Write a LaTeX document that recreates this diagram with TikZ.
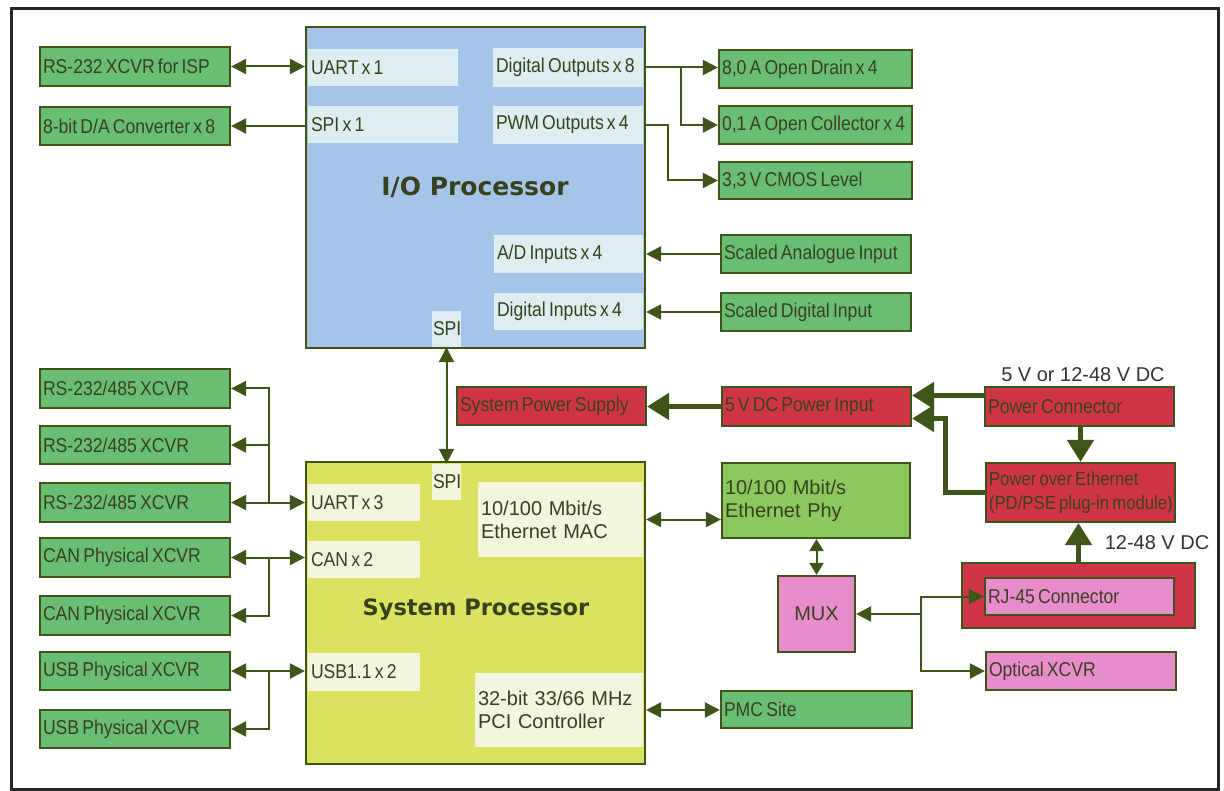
\documentclass[tikz,border=0pt]{standalone}
\usepackage{fontspec}
\usepackage{graphicx}
\setmainfont{Liberation Sans}
\newfontfamily\ttl{DejaVu Sans}
\usetikzlibrary{arrows.meta}
\newcommand\nr[1]{\scalebox{0.88}[1]{\spaceskip=3.6pt plus 1pt minus 0.8pt\relax #1}}
\definecolor{grnf}{RGB}{106,190,116}
\definecolor{phyf}{RGB}{140,200,95}
\definecolor{bluef}{RGB}{165,196,232}
\definecolor{yelf}{RGB}{220,226,96}
\definecolor{redf}{RGB}{208,52,72}
\definecolor{pinkf}{RGB}{232,140,204}
\definecolor{edge}{RGB}{62,84,24}
\definecolor{txt}{RGB}{55,65,30}
\definecolor{iosub}{RGB}{222,238,240}
\definecolor{syssub}{RGB}{243,245,222}
\newcommand\bx[7]{%
 \pgfmathsetmacro\bxw{#5-#3}\pgfmathsetmacro\bxh{#6-#4}\pgfmathsetmacro\bxt{#5-#3-6}%
 \pgfmathsetmacro\bxx{(#3+#5)/2}\pgfmathsetmacro\bxy{(#4+#6)/2}%
 \node[#1, minimum width=\bxw pt, minimum height=\bxh pt, text width=\bxt pt] (#2) at (\bxx,\bxy) {#7};}
\tikzset{
 lbl/.style={font=\fontsize{20}{23}\selectfont, text=txt, align=left, inner xsep=3pt, inner ysep=0pt},
 grn/.style={lbl, draw=edge, line width=2.2pt, fill=grnf},
 phy/.style={grn, fill=phyf},
 red/.style={lbl, draw=edge, line width=2.2pt, fill=redf},
 pink/.style={lbl, draw=edge, line width=2.2pt, fill=pinkf},
 proc/.style={lbl, draw=edge, line width=2.2pt},
 iob/.style={lbl, fill=iosub},
 syb/.style={lbl, fill=syssub},
 ttlf/.style={font=\ttl\bfseries, text=txt},
 vlbl/.style={font=\fontsize{20}{23}\selectfont, text=black!80},
 sgl/.style={draw=edge, line width=2pt, -{Triangle[length=15pt,width=15pt]}},
 dbl/.style={draw=edge, line width=2pt, {Triangle[length=15pt,width=15pt]}-{Triangle[length=15pt,width=15pt]}},
 sdbl/.style={draw=edge, line width=2pt, {Triangle[length=12pt,width=14pt]}-{Triangle[length=12pt,width=14pt]}},
 thk/.style={draw=edge, line width=5pt, -{Triangle[length=22pt,width=26pt]}},
}
\begin{document}
\begin{tikzpicture}[x=1pt,y=-1pt]
\useasboundingbox (0,0) rectangle (1224,791);
\fill[white] (0,0) rectangle (1224,791);
\draw[line width=3pt, black!85] (11.5,8.5) rectangle (1218.5,789);
% I/O processor
\bx{proc, fill=bluef}{io}{306}{27}{645}{348}{}
\bx{iob}{uart1}{308}{49}{458}{86}{\nr{UART x 1}}
\bx{iob}{spi1}{308}{106}{458}{143}{\nr{SPI x 1}}
\bx{iob}{dout}{493}{48}{643}{87}{\nr{Digital Outputs x 8}}
\bx{iob}{pwm}{493}{106}{643}{144}{\nr{PWM Outputs x 4}}
\bx{iob}{ad}{494}{235}{643}{273}{\nr{A/D Inputs x 4}}
\bx{iob}{din}{494}{293}{643}{330}{\nr{Digital Inputs x 4}}
\node[lbl, fill=iosub, inner xsep=1pt, minimum width=29pt, minimum height=36pt, text width=27pt] (spiio) at (446.5,329) {\nr{SPI}};
\node[ttlf, font=\ttl\bfseries\fontsize{25}{28}\selectfont] (iot) at (475,187) {I/O Processor};
% System processor
\bx{proc, fill=yelf}{sys}{306}{462}{645}{764}{}
\node[lbl, fill=syssub, inner xsep=1pt, minimum width=29pt, minimum height=36pt, text width=27pt] (spisys) at (446.5,482) {\nr{SPI}};
\bx{syb}{uart3}{308}{484}{420}{521}{\nr{UART x 3}}
\bx{syb}{canx}{308}{541}{420}{578}{\nr{CAN x 2}}
\bx{syb}{usbx}{308}{653}{420}{691}{\nr{USB1.1 x 2}}
\bx{syb}{mac}{478}{482}{643}{557}{10/100 Mbit/s\\Ethernet MAC}
\bx{syb}{pci}{475}{673}{643}{747}{32-bit 33/66 MHz\\PCI Controller}
\node[ttlf, font=\ttl\bfseries\fontsize{22.5}{28}\selectfont] (syst) at (476,610) {System Processor};
% left boxes
\bx{grn}{rsisp}{40}{47}{230}{86}{\nr{RS-232 XCVR for ISP}}
\bx{grn}{da}{40}{107}{230}{145}{\nr{8-bit D/A Converter x 8}}
\bx{grn}{rs1}{40}{369}{230}{408}{\nr{RS-232/485 XCVR}}
\bx{grn}{rs2}{40}{426}{230}{464}{\nr{RS-232/485 XCVR}}
\bx{grn}{rs3}{40}{483}{230}{522}{\nr{RS-232/485 XCVR}}
\bx{grn}{can1}{40}{538}{230}{577}{\nr{CAN Physical XCVR}}
\bx{grn}{can2}{40}{596}{230}{635}{\nr{CAN Physical XCVR}}
\bx{grn}{usb1}{40}{652}{230}{690}{\nr{USB Physical XCVR}}
\bx{grn}{usb2}{40}{710}{230}{748}{\nr{USB Physical XCVR}}
% right upper boxes
\bx{grn}{drain}{719}{50}{912}{88}{\nr{8,0 A Open Drain x 4}}
\bx{grn}{coll}{719}{106}{912}{144}{\nr{0,1 A Open Collector x 4}}
\bx{grn}{cmos}{719}{162}{912}{199}{\nr{3,3 V CMOS Level}}
\bx{grn}{sana}{721}{235}{911}{273}{\nr{Scaled Analogue Input}}
\bx{grn}{sdig}{721}{293}{911}{331}{\nr{Scaled Digital Input}}
% power and network
\bx{red}{sps}{457}{387}{646}{425}{\nr{System Power Supply}}
\bx{red}{pin}{722}{387}{911}{426}{\nr{5 V DC Power Input}}
\bx{red}{pconn}{985}{387}{1174}{426}{\nr{Power Connector}}
\bx{red, font=\fontsize{19}{24}\selectfont}{poe}{986}{463}{1175}{522}{\nr{Power over Ethernet}\\\nr{(PD/PSE plug-in module)}}
\bx{red}{rjout}{962}{563}{1195}{628}{}
\bx{pink}{rjin}{985}{578}{1174}{615}{\nr{RJ-45 Connector}}
\bx{phy}{phy}{722}{463}{910}{538}{10/100 Mbit/s\\Ethernet Phy}
\node[pink, align=center, minimum width=77pt, minimum height=76pt] (mux) at (816.5,614) {MUX};
\bx{pink}{optical}{986}{652}{1176}{690}{\nr{Optical XCVR}}
\bx{grn}{pmc}{721}{691}{912}{728}{\nr{PMC Site}}
\node[vlbl] (v1) at (1083,375) {5 V or 12-48 V DC};
\node[vlbl] (v2) at (1157,543) {12-48 V DC};
% connectors upper left
\draw[dbl] (rsisp.east) -- (rsisp.east -| io.west);
\draw[sgl] (da.east -| io.west) -- (da.east);
% outputs
\draw[sgl] (dout.east -| io.east) -- (dout.east -| drain.west);
\draw[sgl] ([xshift=38pt]dout.east) |- (coll.west);
\draw[sgl] (pwm.east -| io.east) -- ++(22,0) |- (cmos.west);
\draw[sgl] (sana.west) -- (sana.west -| io.east);
\draw[sgl] (sdig.west) -- (sdig.west -| io.east);
% SPI link
\draw[dbl] (spiio.south) -- (spisys.north);
% UART / CAN / USB
\draw[dbl] (rs3.east) -- (rs3.east -| sys.west);
\coordinate (ub) at ([xshift=38pt]rs3.east);
\draw[sgl] (ub) |- (rs2.east);
\draw[sgl] (ub) |- (rs1.east);
\draw[dbl] (can1.east) -- (can1.east -| sys.west);
\draw[sgl] ([xshift=38pt]can1.east) |- (can2.east);
\draw[dbl] (usb1.east) -- (usb1.east -| sys.west);
\draw[sgl] ([xshift=38pt]usb1.east) |- (usb2.east);
% ethernet, pci
\draw[dbl] (mac.east -| sys.east) -- (mac.east -| phy.west);
\draw[dbl] (pci.east -| sys.east) -- (pci.east -| pmc.west);
\draw[sdbl] (mux.north |- phy.south) -- (mux.north);
\coordinate (nb) at (921,614);
\draw[sgl] (nb) -- (mux.east);
\draw[sgl] (nb) |- (rjin.west);
\draw[sgl] (nb) |- (optical.west);
% power
\draw[thk] ([yshift=11pt]pconn.west) -- ([yshift=11pt]pin.east);
\draw[thk] (poe.west) -- ++(-39,0) |- ([yshift=-12pt]pin.east);
\draw[thk] (poe.north |- pconn.south) -- (poe.north);
\draw[thk] (rjout.north) -- (rjout.north |- poe.south);
\draw[thk] (pin.west) -- (pin.west -| sps.east);
\end{tikzpicture}
\end{document}
